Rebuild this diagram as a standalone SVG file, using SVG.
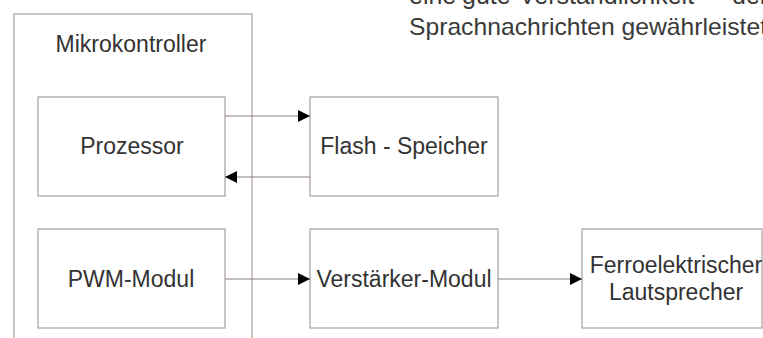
<svg xmlns="http://www.w3.org/2000/svg" width="763" height="338" viewBox="0 0 763 338">
<defs>
<style>
.box{fill:#fff;stroke:#b0a6a2;stroke-width:1.3}
.lbl{font-family:"Liberation Sans",Arial,sans-serif;font-size:23px;fill:#333;text-anchor:middle}
.para{font-family:"Liberation Sans",Arial,sans-serif;font-size:24px;fill:#3a3a3a}
.conn{stroke:#8a7f7b;stroke-width:1.2;fill:none}
</style>
<marker id="ah" viewBox="0 0 12 12" refX="12" refY="6" markerWidth="12" markerHeight="12" markerUnits="userSpaceOnUse" orient="auto">
<path d="M0,0 L12,6 L0,12 Z" fill="#000"/>
</marker>
</defs>
<rect width="763" height="338" fill="#fff"/>
<text class="para" y="4" style="font-size:25px"><tspan x="409">eine</tspan><tspan x="462">gute</tspan><tspan x="519">Verständlichkeit</tspan><tspan x="732">der</tspan></text>
<text class="para" x="409" y="35" textLength="358" lengthAdjust="spacingAndGlyphs">Sprachnachrichten gewährleistet</text>
<g id="mikrokontroller">
<rect class="box" x="14" y="14" width="238" height="340"/>
<text class="lbl" x="131" y="52">Mikrokontroller</text>
</g>
<g id="prozessor">
<rect class="box" x="38" y="97" width="187" height="99"/>
<text class="lbl" x="132" y="154">Prozessor</text>
</g>
<g id="flash">
<rect class="box" x="310" y="97" width="188" height="99"/>
<text class="lbl" x="404" y="154">Flash - Speicher</text>
</g>
<g id="pwm">
<rect class="box" x="38" y="229" width="187" height="99"/>
<text class="lbl" x="131" y="287">PWM-Modul</text>
</g>
<g id="verstaerker">
<rect class="box" x="310" y="229" width="188" height="99"/>
<text class="lbl" x="404" y="287">Verstärker-Modul</text>
</g>
<g id="lautsprecher">
<rect class="box" x="582" y="229" width="180" height="99"/>
<text class="lbl" x="676" y="273">Ferroelektrischer</text>
<text class="lbl" x="676" y="300">Lautsprecher</text>
</g>
<g id="connectors">
<line class="conn" x1="225" y1="116" x2="310" y2="116" marker-end="url(#ah)"/>
<line class="conn" x1="310" y1="177" x2="225" y2="177" marker-end="url(#ah)"/>
<line class="conn" x1="225" y1="279" x2="310" y2="279" marker-end="url(#ah)"/>
<line class="conn" x1="498" y1="279" x2="582" y2="279" marker-end="url(#ah)"/>
</g>
</svg>
